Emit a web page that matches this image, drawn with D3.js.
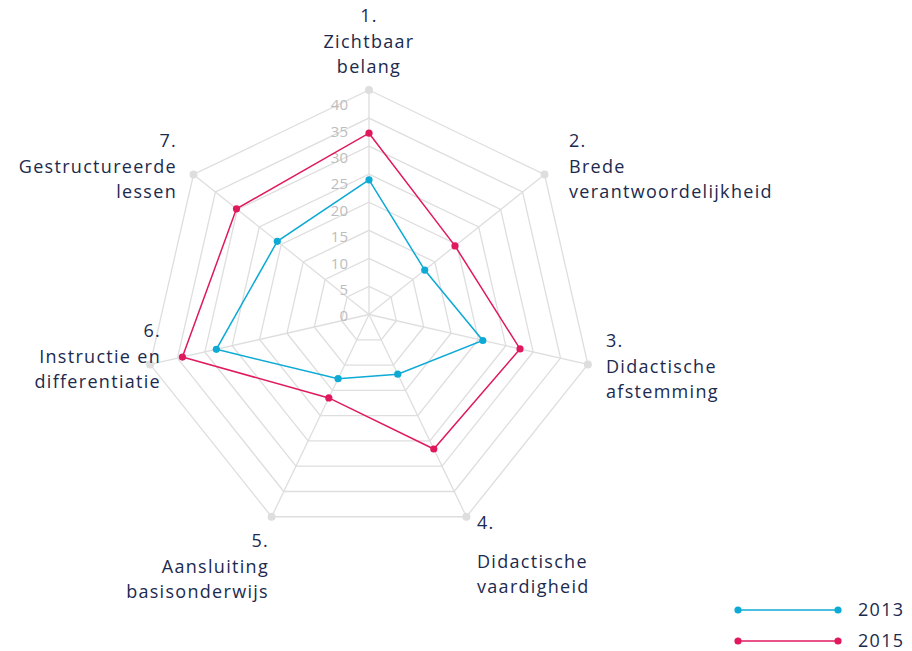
<!DOCTYPE html>
<html>
<head>
<meta charset="utf-8">
<script src="https://cdn.jsdelivr.net/npm/d3@7"></script>
<style>
  body { margin: 0; background: #fff; }
  svg { display: block; font-family: "Open Sans", Lato, sans-serif; }
</style>
</head>
<body>
<svg width="912" height="651"></svg>
<script>
// categories (axes), clockwise from top
const categories = [
  ['1.', 'Zichtbaar', 'belang'],
  ['2.', 'Brede', 'verantwoordelijkheid'],
  ['3.', 'Didactische', 'afstemming'],
  ['4.', 'Didactische', 'vaardigheid'],
  ['5.', 'Aansluiting', 'basisonderwijs'],
  ['6.', 'Instructie en', 'differentiatie'],
  ['7.', 'Gestructureerde', 'lessen']
];
const values2013 = [24, 12.7, 20.8, 11.8, 12.7, 27.9, 20.9];
const values2015 = [32.3, 19.6, 27.6, 26.6, 16.5, 34.1, 30.2];
const seriesNames = ['2013', '2015'];
const ticks = [0, 5, 10, 15, 20, 25, 30, 35, 40];

(function (d3) {
  'use strict';
  const svg = d3.select('svg');
  const cx = 369, cy = 314.5, R = 224.5;
  const colors = ['#0eaad6', '#e0195f'];
  const navy = '#1b2a4e';

  const r = d3.scaleLinear().domain([0, 40]).range([0, R]);
  const angle = d3.scaleLinear().domain([0, categories.length]).range([0, 2 * Math.PI]);
  const pt = (i, v) => [cx + r(v) * Math.sin(angle(i)), cy - r(v) * Math.cos(angle(i))];

  const grid = svg.append('g').attr('stroke', '#dedede').attr('stroke-width', 1.3).attr('fill', 'none');
  // rings
  ticks.slice(1).forEach(t => {
    grid.append('path')
      .attr('d', d3.line()(categories.map((c, i) => pt(i, t))) + 'Z');
  });
  // spokes
  categories.forEach((c, i) => {
    grid.append('line')
      .attr('x1', cx).attr('y1', cy)
      .attr('x2', pt(i, 40)[0]).attr('y2', pt(i, 40)[1]);
  });
  svg.append('g').selectAll('circle').data(categories).join('circle')
    .attr('cx', (d, i) => pt(i, 40)[0])
    .attr('cy', (d, i) => pt(i, 40)[1])
    .attr('r', 4).attr('fill', '#dedede');

  // tick labels
  const tickY = d3.scaleLinear().domain([0, 40]).range([cy + 1.5, cy - 209.5]);
  svg.append('g').selectAll('text').data(ticks).join('text')
    .attr('x', 348).attr('y', d => tickY(d))
    .attr('dy', '0.35em')
    .attr('text-anchor', 'end')
    .attr('fill', '#bdbdbd')
    .attr('font-size', 15)
    .text(d => d);

  // series
  [values2013, values2015].forEach((vals, s) => {
    const g = svg.append('g');
    g.append('path')
      .attr('d', d3.line()(vals.map((v, i) => pt(i, v))) + 'Z')
      .attr('fill', 'none').attr('stroke', colors[s]).attr('stroke-width', 1.5);
    g.selectAll('circle').data(vals).join('circle')
      .attr('cx', (v, i) => pt(i, v)[0])
      .attr('cy', (v, i) => pt(i, v)[1])
      .attr('r', 3.6).attr('fill', colors[s]);
  });

  // axis labels
  const labelPos = [
    { x: 369, y: 22, anchor: 'middle' },
    { x: 569, y: 147, anchor: 'start' },
    { x: 606, y: 347, anchor: 'start' },
    { x: 477, y: 529, anchor: 'start', gap: true },
    { x: 269, y: 547, anchor: 'end' },
    { x: 161, y: 337, anchor: 'end' },
    { x: 177, y: 147, anchor: 'end' }
  ];
  categories.forEach((lines, i) => {
    const p = labelPos[i];
    const t = svg.append('text')
      .attr('x', p.x).attr('y', p.y)
      .attr('text-anchor', p.anchor)
      .attr('fill', navy)
      .attr('font-size', 18)
      .attr('letter-spacing', 1.3);
    lines.forEach((line, k) => {
      t.append('tspan').attr('x', p.x)
        .attr('y', p.y + (k === 0 ? 0 : (p.gap ? 13 : 0) + k * 25.5))
        .text(line);
    });
  });

  // legend
  const legend = svg.append('g');
  seriesNames.forEach((name, s) => {
    const y = 610 + s * 31;
    legend.append('line').attr('x1', 738).attr('x2', 838).attr('y1', y).attr('y2', y)
      .attr('stroke', colors[s]).attr('stroke-width', 1.5);
    [738, 838].forEach(x => legend.append('circle').attr('cx', x).attr('cy', y).attr('r', 3.6).attr('fill', colors[s]));
    legend.append('text').attr('x', 858).attr('y', y).attr('dy', '0.35em')
      .attr('fill', navy).attr('font-size', 18).attr('letter-spacing', 1.3).text(name);
  });
}(d3));
</script>
</body>
</html>
